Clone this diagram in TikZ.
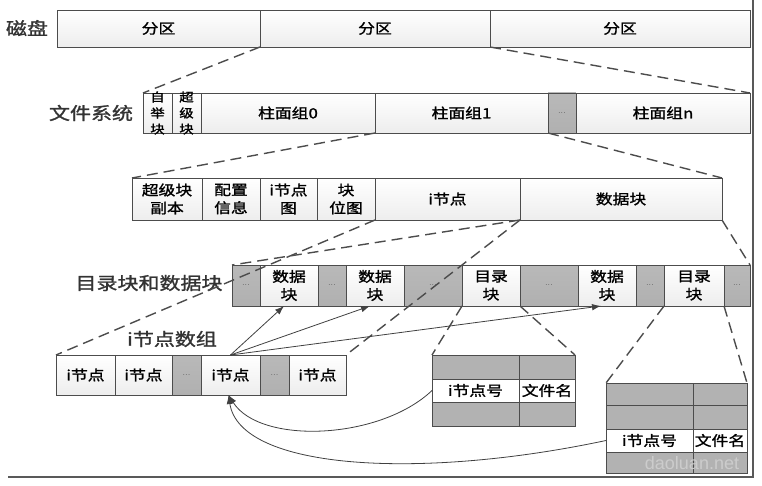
\documentclass[tikz,border=0pt]{standalone}
\usepackage{fontspec}
\newfontfamily\cjk[FakeStretch=1.2, FakeBold=1.4]{Noto Sans CJK SC}
\newfontfamily\wmfont{Liberation Sans}
\usetikzlibrary{arrows.meta, positioning}

\begin{document}
\begin{tikzpicture}[
    x=1pt, y=-1pt,
    cell/.style={
        draw=black!70,
        line width=0.8pt,
        top color=white,
        bottom color=gray!14,
        inner sep=0pt,
        outer sep=0pt,
        align=center,
        font=\cjk\fontsize{14}{18}\selectfont
    },
    gap/.style={cell, top color=gray!55, bottom color=gray!62, font=\small, text=black!75},
    tcell/.style={
        draw=black!70,
        line width=0.8pt,
        fill=gray!60,
        inner sep=0pt,
        outer sep=0pt,
        font=\cjk\fontsize{14}{18}\selectfont
    },
    trow/.style={tcell, fill=white},
    title/.style={font=\cjk\fontsize{17.5}{20}\selectfont, text=black!80},
    vtext/.style={align=center, font=\cjk\fontsize{12}{16}\selectfont},
    dashlink/.style={dash pattern=on 11pt off 6pt, line width=1.4pt, black!70},
    arrow/.style={-{Latex[length=9pt, width=6.5pt]}, line width=0.8pt, black!75}
]
\useasboundingbox (0,0) rectangle (762,486);

% ------------------------
% Disk
% ------------------------
\node[title] (disk) at (27,28) {磁盘};
\node[cell, minimum width=203pt, minimum height=37pt, anchor=north west] (part1) at (57,10) {分区};
\node[cell, minimum width=230pt, minimum height=37pt, right=0pt of part1] (part2) {分区};
\node[cell, minimum width=260pt, minimum height=37pt, right=0pt of part2] (part3) {分区};

% ------------------------
% File system
% ------------------------
\node[title] (fs) at (91,113) {文件系统};
\node[cell, minimum width=29pt, minimum height=40pt, anchor=north west] (boot) at (143,93) {};
\node[cell, minimum width=29pt, minimum height=40pt, right=0pt of boot] (super) {};
\node[cell, minimum width=174pt, minimum height=40pt, right=0pt of super] (cg0) {柱面组0};
\node[cell, minimum width=173pt, minimum height=40pt, right=0pt of cg0] (cg1) {柱面组1};
\node[gap, minimum width=28pt, minimum height=40pt, right=0pt of cg1] (cgdots) {...};
\node[cell, minimum width=174pt, minimum height=40pt, right=0pt of cgdots] (cgn) {柱面组n};
\node[vtext] (boottxt) at (boot.center) {自\\举\\块};
\node[vtext] (supertxt) at (super.center) {超\\级\\块};

% ------------------------
% Cylinder group
% ------------------------
\node[cell, minimum width=70pt, minimum height=42pt, anchor=north west] (sbcopy) at (132,178) {超级块\\副本};
\node[cell, minimum width=58pt, minimum height=42pt, right=0pt of sbcopy] (conf) {配置\\信息};
\node[cell, minimum width=57pt, minimum height=42pt, right=0pt of conf] (imap) {i节点\\图};
\node[cell, minimum width=58pt, minimum height=42pt, right=0pt of imap] (bmap) {块\\位图};
\node[cell, minimum width=145pt, minimum height=42pt, right=0pt of bmap] (inode) {i节点};
\node[cell, minimum width=202pt, minimum height=42pt, right=0pt of inode] (data) {数据块};

% ------------------------
% Directory and data blocks
% ------------------------
\node[title] (dirdata) at (149,283) {目录块和数据块};
\node[gap, minimum width=28pt, minimum height=41pt, anchor=north west] (g0) at (232,265) {...};
\node[cell, minimum width=58pt, minimum height=41pt, right=0pt of g0] (blk1) {数据\\块};
\node[gap, minimum width=28pt, minimum height=41pt, right=0pt of blk1] (g1) {...};
\node[cell, minimum width=58pt, minimum height=41pt, right=0pt of g1] (blk2) {数据\\块};
\node[gap, minimum width=58pt, minimum height=41pt, right=0pt of blk2] (g2) {...};
\node[cell, minimum width=58pt, minimum height=41pt, right=0pt of g2] (dir1) {目录\\块};
\node[gap, minimum width=58pt, minimum height=41pt, right=0pt of dir1] (g3) {...};
\node[cell, minimum width=58pt, minimum height=41pt, right=0pt of g3] (blk3) {数据\\块};
\node[gap, minimum width=28pt, minimum height=41pt, right=0pt of blk3] (g4) {...};
\node[cell, minimum width=60pt, minimum height=41pt, right=0pt of g4] (dir2) {目录\\块};
\node[gap, minimum width=26pt, minimum height=41pt, right=0pt of dir2] (g5) {...};

% ------------------------
% i-node array
% ------------------------
\node[title] (iarray) at (172,339) {i节点数组};
\node[cell, minimum width=59pt, minimum height=40pt, anchor=north west] (ino1) at (56,355) {i节点};
\node[cell, minimum width=57pt, minimum height=40pt, right=0pt of ino1] (ino2) {i节点};
\node[gap, minimum width=29pt, minimum height=40pt, right=0pt of ino2] (g6) {...};
\node[cell, minimum width=59pt, minimum height=40pt, right=0pt of g6] (ino3) {i节点};
\node[gap, minimum width=29pt, minimum height=40pt, right=0pt of ino3] (g7) {...};
\node[cell, minimum width=57pt, minimum height=40pt, right=0pt of g7] (ino4) {i节点};

% ------------------------
% Directory tables
% ------------------------
\node[tcell, minimum width=87pt, minimum height=24pt, anchor=north west] (ta1l) at (432,355) {};
\node[tcell, minimum width=56pt, minimum height=24pt, right=0pt of ta1l] (ta1r) {};
\node[trow, minimum width=87pt, minimum height=23pt, below=0pt of ta1l] (ta2l) {i节点号};
\node[trow, minimum width=56pt, minimum height=23pt, right=0pt of ta2l] (ta2r) {文件名};
\node[tcell, minimum width=87pt, minimum height=24pt, below=0pt of ta2l] (ta3l) {};
\node[tcell, minimum width=56pt, minimum height=24pt, right=0pt of ta3l] (ta3r) {};

\node[tcell, minimum width=87pt, minimum height=22pt, anchor=north west] (tb1l) at (606,383) {};
\node[tcell, minimum width=54pt, minimum height=22pt, right=0pt of tb1l] (tb1r) {};
\node[tcell, minimum width=87pt, minimum height=24pt, below=0pt of tb1l] (tb2l) {};
\node[tcell, minimum width=54pt, minimum height=24pt, right=0pt of tb2l] (tb2r) {};
\node[trow, minimum width=87pt, minimum height=23pt, below=0pt of tb2l] (tb3l) {i节点号};
\node[trow, minimum width=54pt, minimum height=23pt, right=0pt of tb3l] (tb3r) {文件名};
\node[tcell, minimum width=87pt, minimum height=21pt, below=0pt of tb3l] (tb4l) {};
\node[tcell, minimum width=54pt, minimum height=21pt, right=0pt of tb4l] (tb4r) {};

\node[font=\wmfont\fontsize{18}{18}\selectfont, text=gray!40] (wm) at (692,463) {daoluan.net};

% ------------------------
% Dashed zoom lines
% ------------------------
\draw[dashlink] (part1.south east) -- (boot.north west);
\draw[dashlink] (part2.south east) -- (cgn.north east);
\draw[dashlink] (cg0.south east) -- (sbcopy.north west);
\draw[dashlink] (cg1.south east) -- (data.north east);
\draw[dashlink] (inode.south west) -- (ino1.north west);
\draw[dashlink] (inode.south east) -- (ino4.north east);
\draw[dashlink] (data.south west) -- (g0.north west);
\draw[dashlink] (data.south east) -- (g5.north east);
\draw[dashlink] (dir1.south west) -- (ta1l.north west);
\draw[dashlink] (dir1.south east) -- (ta1r.north east);
\draw[dashlink] (dir2.south west) -- (tb1l.north west);
\draw[dashlink] (dir2.south east) -- (tb1r.north east);

% ------------------------
% Arrows
% ------------------------
\draw[arrow] (ino3.north) -- ([xshift=-5pt]blk1.south);
\draw[arrow] (ino3.north) -- ([xshift=-5pt]blk2.south);
\draw[arrow] (ino3.north) -- ([xshift=-6pt]blk3.south);
\draw[arrow] (ta2l.west) .. controls (380,440) and (260,445) .. ([xshift=-2pt]ino3.south);
\draw[arrow] (tb3l.west) .. controls (420,480) and (240,470) .. ([xshift=-2pt]ino3.south);

% frame
\draw[line width=1.6pt, black!65] (753,0) -- (753,477) -- (8,477);

\end{tikzpicture}
\end{document}
